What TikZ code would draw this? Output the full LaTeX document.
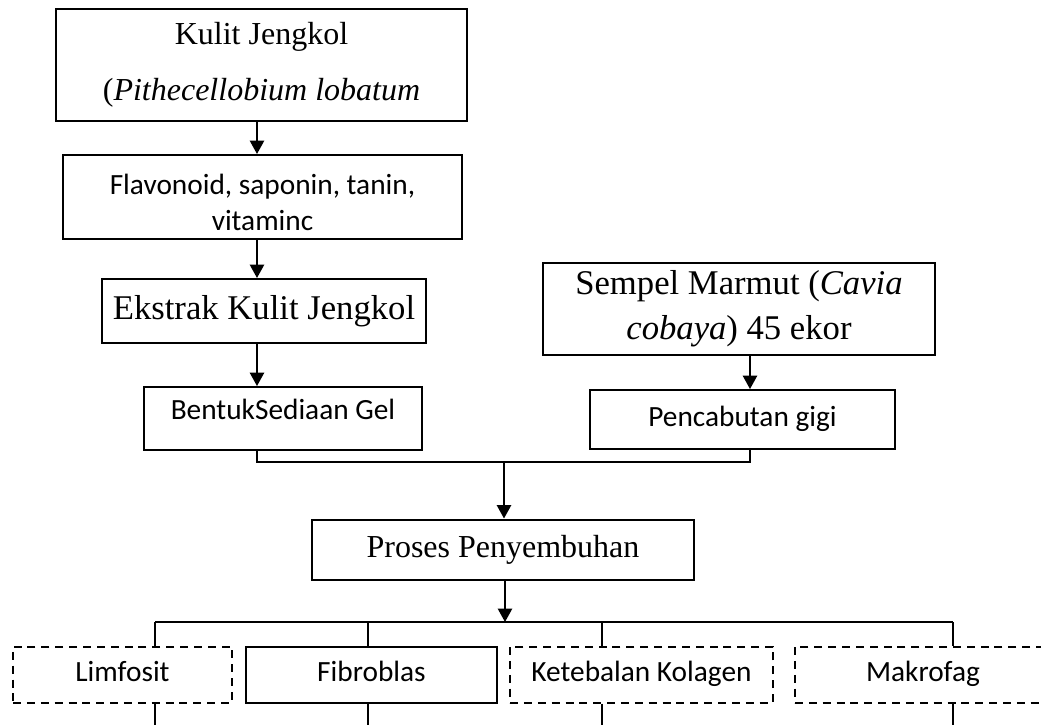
\documentclass[tikz,border=0pt]{standalone}
\usepackage{fontspec}
\setmainfont{Liberation Serif}
\newfontfamily\calibri{Carlito}
\usetikzlibrary{arrows.meta, positioning, calc}
\tikzset{
  kotak/.style={rectangle, draw=black, line width=0.75pt, align=center,
    inner sep=1mm},
  kotakserif/.style={kotak, font=\fontsize{12}{21}\selectfont},
  kotakbesar/.style={kotak, font=\fontsize{13}{17}\selectfont},
  kotaksans/.style={kotak, font=\calibri\fontsize{11}{13.5}\selectfont},
  satubaris/.style={kotaksans, text height=8pt, text depth=2.5pt},
  kotakputus/.style={satubaris, dash pattern=on 3pt off 2.2pt},
  panah/.style={-{Triangle[length=5pt, width=5.3pt]}, line width=0.75pt},
  garis/.style={line width=0.75pt},
  ranting/.style={line width=0.5pt}
}

\begin{document}
\begin{tikzpicture}[x=0.375pt, y=-0.375pt]
    \useasboundingbox (0,0) rectangle (1041,724);

    % Kolom kiri
    \node[kotakserif, minimum width=154.1pt, minimum height=42pt] (kulit)
      at (261.5,65) {Kulit Jengkol\\(\textit{Pithecellobium lobatum}};
    \node[kotaksans, inner ysep=0pt, minimum width=149.6pt, minimum height=31.5pt] (flav)
      at (262.5,197) {\rule{0pt}{12pt}Flavonoid, saponin, tanin,\\vitaminc};
    \node[kotakbesar, minimum width=121.5pt, minimum height=24pt] (ekstrak)
      at (264,311) {Ekstrak Kulit Jengkol};
    \node[satubaris, text depth=7.5pt, minimum width=104.3pt, minimum height=23.6pt] (gel)
      at (283,418.5) {BentukSediaan Gel};

    % Kolom kanan
    \node[kotakbesar, minimum width=147pt, minimum height=34.5pt] (sempel)
      at (739,309) {Sempel Marmut (\textit{Cavia}\\\textit{cobaya}) 45 ekor};
    \node[satubaris, minimum width=114.4pt, minimum height=22.1pt] (cabut)
      at (742.5,419.5) {Pencabutan gigi};

    % Proses
    \node[kotakserif, minimum width=143.3pt, minimum height=22.5pt] (proses)
      at (503,549.5) {Proses Penyembuhan};

    % Hasil
    \node[kotakputus, minimum width=82.1pt, minimum height=21pt] (limfo)
      at (122.5,674.5) {Limfosit};
    \node[satubaris, minimum width=94.1pt, minimum height=21pt] (fibro)
      at (371.5,674.5) {Fibroblas};
    \node[kotakputus, minimum width=98.6pt, minimum height=21pt] (kolagen)
      at (641.5,674.5) {Ketebalan Kolagen};
    \node[kotakputus, minimum width=96pt, minimum height=21pt] (makro)
      at (923,674.5) {Makrofag};

    % Panah
    \coordinate (kiri) at (257,0);
    \coordinate (kanan) at (750,0);
    \draw[panah] (kiri |- kulit.south) -- (kiri |- flav.north);
    \draw[panah] (kiri |- flav.south) -- (kiri |- ekstrak.north);
    \draw[panah] (kiri |- ekstrak.south) -- (kiri |- gel.north);
    \draw[panah] (kanan |- sempel.south) -- (kanan |- cabut.north);

    \coordinate (gabung) at (504,462);
    \draw[garis] (kiri |- gel.south) |- (gabung) -| (kanan |- cabut.south);
    \draw[panah] (gabung) -- (gabung |- proses.north);

    \coordinate (cabang) at (505,622);
    \draw[panah] (cabang |- proses.south) -- (cabang);
    \foreach \x/\n [count=\i] in {155/limfo, 368/fibro, 602/kolagen, 953/makro} {
      \coordinate (t\i) at (\x,622);
      \draw[ranting] (t\i) -- (t\i |- \n.north);
      \draw[ranting] (t\i |- \n.south) -- ++(0,30);
    }
    \draw[ranting] (t1) -- (t4);
\end{tikzpicture}
\end{document}
